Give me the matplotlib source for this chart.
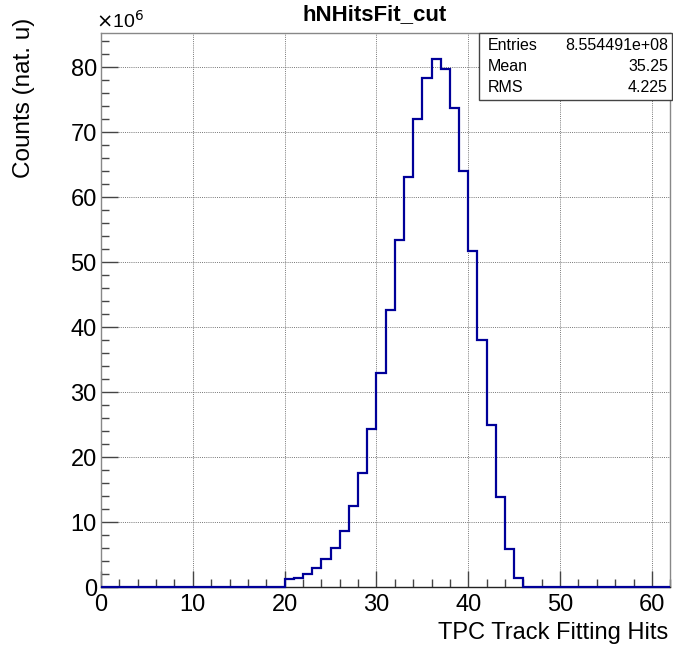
import matplotlib
matplotlib.use("Agg")
import matplotlib.pyplot as plt
import numpy as np

plt.rcParams['font.family'] = ['Liberation Sans', 'DejaVu Sans']

# bin edges 0..62, width 1 ; counts in units of 1e6
bin_edges = list(range(0, 63))
first_bin = 20
counts_millions = [1.18, 1.43, 2.05, 2.97, 4.26, 6.0, 8.67, 12.5, 17.6, 24.4,
                   32.9, 42.6, 53.4, 63.1, 72.1, 78.4, 81.2, 79.7, 73.7, 64.0,
                   51.7, 38.0, 24.9, 13.8, 5.85, 1.43]

title = "hNHitsFit_cut"
x_label = "TPC Track Fitting Hits"
y_label = "Counts (nat. u)"
stats_names = ["Entries", "Mean", "RMS"]
stats_values = ["8.554491e+08", "35.25", "4.225"]

values = np.zeros(len(bin_edges) - 1)
values[first_bin:first_bin + len(counts_millions)] = counts_millions

fig = plt.figure(figsize=(6.73, 6.48), dpi=100)
ax = fig.add_axes([0.150, 0.094, 0.846, 0.855])

ax.stairs(values, bin_edges, color="#000099", linewidth=1.6, clip_on=False, zorder=3)

ax.set_xlim(0, 62)
ax.set_ylim(0, values.max() * 1.05)

ax.set_xticks(np.arange(0, 61, 10))
ax.set_xticks(np.arange(0, 63, 2), minor=True)
ax.set_yticks(np.arange(0, 81, 10))
ax.set_yticks(np.arange(0, 86, 2), minor=True)

ax.tick_params(which="both", direction="in", top=False, right=False,
               labelsize=17, color="#444444")
ax.tick_params(axis="x", which="major", length=11.5, width=1, pad=5)
ax.tick_params(axis="x", which="minor", length=5.8, width=1)
ax.tick_params(axis="y", which="major", length=12, width=1, pad=3)
ax.tick_params(axis="y", which="minor", length=5.8, width=1)

ax.grid(True, which="major", linestyle=(0, (1, 1.2)), color="#777777", linewidth=0.7)
ax.set_axisbelow(True)

for name, sp in ax.spines.items():
    sp.set_color("#888888")
    sp.set_linewidth(1)
ax.spines["bottom"].set_color("#222222")

fig.text(0.557, 0.978, title, ha="center", va="center", fontsize=16, fontweight="bold")
fig.text(0.993, 0.023, x_label, ha="right", va="center", fontsize=17)
fig.text(0.035, 0.972, y_label, ha="center", va="top", rotation=90, fontsize=17.5)
fig.text(0.143, 0.968, r"$\times$10$^{6}$", ha="left", va="center", fontsize=14)

# stats box
bx0, by0 = 479 / 673, 1 - 100 / 648
bw, bh = 193 / 673, 67 / 648
box = plt.Rectangle((bx0, by0), bw, bh, transform=fig.transFigure,
                    facecolor="white", edgecolor="#444444", linewidth=1, zorder=5)
fig.patches.append(box)
for i, (n, v) in enumerate(zip(stats_names, stats_values)):
    yy = 1 - (45 + 21.5 * i) / 648
    fig.text(bx0 + 9 / 673, yy, n, ha="left", va="center", fontsize=11.5, zorder=6)
    fig.text(bx0 + bw - 4 / 673, yy, v, ha="right", va="center", fontsize=11.5, zorder=6)

fig.savefig("out.png", dpi=100)
plt.close(fig)
